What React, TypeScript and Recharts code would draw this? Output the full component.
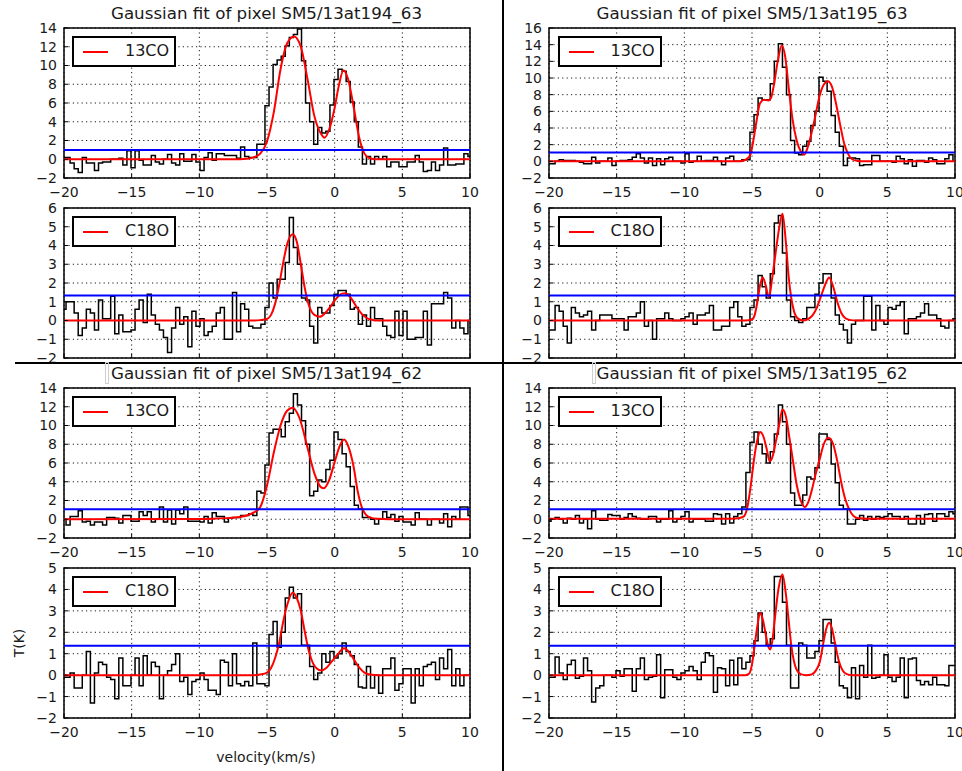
import React from 'react';
import { LineChart, Line, XAxis, YAxis, CartesianGrid, ReferenceLine, ReferenceArea } from 'recharts';

const FONT = '"DejaVu Sans", sans-serif';

// velocity channel grid (km/s)
const V_START = -20;
const CHANNEL_WIDTH = 0.3;
const N_CHANNELS = 101;
const velocity = Array.from({ length: N_CHANNELS }, (_, i) => Math.round((V_START + i * CHANNEL_WIDTH) * 100) / 100);

const xTicks = [-20, -15, -10, -5, 0, 5, 10];
const yTicks13coA = [-2, 0, 2, 4, 6, 8, 10, 12, 14];
const yTicks13coB = [-2, 0, 2, 4, 6, 8, 10, 12, 14, 16];
const yTicksC18oA = [-2, -1, 0, 1, 2, 3, 4, 5, 6];
const yTicksC18oB = [-2, -1, 0, 1, 2, 3, 4, 5];

const titles = [
  'Gaussian fit of pixel SM5/13at194_63',
  'Gaussian fit of pixel SM5/13at195_63',
  'Gaussian fit of pixel SM5/13at194_62',
  'Gaussian fit of pixel SM5/13at195_62',
];

// ---- spectra (T in K per channel) ----
const t194_63_13co = [
  0.2, 0.2, -0.4, -1.0, -1.4, 0.2, -0.4, -0.4, -1.2, -0.4,
  -0.3, -0.3, 0.0, 0.0, 0.1, -0.6, 0.9, -0.9, 0.9, -0.1,
  -0.6, -0.6, 0.4, -0.3, -0.5, 0.0, 0.5, -0.4, -0.6, 0.6,
  -0.2, -0.2, 0.5, -0.3, -1.2, 0.2, 0.7, -0.1, 0.6, 0.6,
  0.4, 0.4, 0.4, 0.1, 1.3, 0.3, 0.2, 0.2, 1.6, 1.6,
  5.7, 7.7, 10.1, 10.6, 11.0, 12.1, 13.0, 13.3, 13.9, 10.5,
  6.0, 4.0, 1.6, 3.4, 2.8, 3.0, 5.8, 8.5, 9.6, 9.4,
  8.3, 6.1, 4.0, 1.3, -0.5, 0.3, -0.5, 0.3, 0.0, 0.3,
  -0.8, -0.3, -0.3, -0.8, -0.8, -0.3, -0.3, 0.4, -0.3, -1.3,
  -1.2, -0.3, -1.2, -0.6, 1.2, -0.6, -0.6, -0.5, -0.5, 0.6,
  0.3,
];
const t194_63_c18o = [
  0.6, 1.0, 1.0, 0.4, -0.8, -0.4, 0.6, 0.4, -0.5, 1.1,
  0.1, 0.1, 1.3, -0.7, 0.3, -0.6, -0.6, -0.5, 0.6, 1.1,
  -0.1, 1.4, 0.3, -0.2, -0.5, -0.9, -1.7, -0.4, 0.7, -0.2,
  0.2, -1.4, 0.5, -0.3, 0.1, -0.8, -0.6, -0.3, 0.4, 0.7,
  -1.0, -1.0, 1.5, -0.6, 0.9, 0.6, -0.3, -0.4, -0.4, -0.2,
  0.7, 2.0, 1.2, 2.2, 2.2, 3.1, 5.5, 3.9, 3.0, 1.2,
  1.1, -0.3, -1.2, 0.7, 0.4, 0.4, 0.8, 1.4, 1.6, 1.6,
  1.4, 0.6, 0.7, -0.2, 0.3, -0.3, 0.7, 0.1, 0.1, -0.3,
  -0.8, -0.9, 0.5, -0.8, 0.5, -1.0, -1.0, -0.9, -0.9, 0.5,
  -1.3, 0.9, 0.9, 0.9, 1.5, 1.2, -0.4, 0.0, -0.4, -0.7,
  0.0,
];
const t195_63_13co = [
  -0.3, -0.3, 0.0, 0.2, 0.1, 0.1, 0.1, 0.0, -0.1, -0.3,
  -0.3, 0.5, -0.2, 0.0, 0.0, 0.4, -0.5, 0.0, 0.1, 0.1,
  0.2, 0.5, 0.9, 0.4, -0.2, 0.4, -0.5, 0.3, -0.4, 0.3,
  0.5, 0.0, 0.0, -0.2, 0.9, -0.1, 0.0, 0.6, 0.0, 0.1,
  0.1, 0.5, 0.0, -0.4, 0.4, 0.6, 0.0, 0.0, 0.2, 0.2,
  3.5, 5.6, 7.6, 7.4, 7.4, 9.3, 12.0, 14.1, 11.3, 8.0,
  2.5, 1.0, 0.8, 1.8, 2.4, 4.3, 6.0, 10.1, 9.6, 8.4,
  5.5, 3.5, 1.8, -0.5, 0.4, 0.4, 0.3, -0.5, -0.4, -0.4,
  0.7, 0.7, 0.0, 0.0, 0.0, -0.1, 0.6, 0.3, -0.3, 0.2,
  -0.6, 0.1, 0.1, -0.1, 0.4, 0.2, -0.3, -0.3, 0.3, 0.8,
  0.0,
];
const t195_63_c18o = [
  -0.5, -0.5, 0.8, 0.5, -0.3, -1.2, 0.7, 0.4, 0.2, 0.3,
  0.5, -0.5, 0.0, 0.3, 0.3, 0.3, 0.1, 0.1, 0.1, -0.5,
  0.2, 0.2, 0.4, 1.0, -0.3, 0.0, -1.0, 0.1, 0.1, 0.4,
  0.1, 0.0, 0.0, 0.1, 0.2, 0.4, -0.2, 0.3, 0.3, 0.4,
  0.8, -0.5, -0.5, -0.3, -0.3, 0.7, 1.0, 0.2, -0.3, -0.2,
  0.7, 1.1, 2.4, 1.8, 1.2, 2.5, 5.2, 5.6, 3.6, 1.1,
  0.2, 0.0, -0.1, 0.1, 0.7, 0.7, 1.4, 2.0, 2.5, 2.5,
  1.2, 0.3, -0.2, -0.5, -1.2, -0.2, 0.0, 0.0, 1.3, 1.3,
  -0.5, 0.8, 0.0, -0.2, 0.7, 0.6, 0.8, 1.0, -0.7, 0.1,
  0.1, 0.2, 0.4, 0.9, 0.3, 0.3, 0.1, -0.3, -0.4, 0.0,
  0.1,
];
const t194_62_13co = [
  0.0, -0.6, 0.3, 0.3, 0.9, -0.3, -0.2, -0.6, -0.3, -0.3,
  -0.6, 0.2, 0.2, 0.1, -0.4, 0.4, 0.4, -0.2, -0.2, 0.8,
  0.4, 0.8, -0.3, 0.0, 1.3, -0.3, 1.0, -0.5, 1.0, 0.6,
  1.3, -0.2, -0.2, -0.2, -0.3, 0.3, -0.4, 0.7, 0.3, 0.3,
  -0.3, 0.1, 0.2, 0.2, 0.4, 0.4, 0.6, 0.4, 3.0, 2.8,
  5.8, 9.2, 9.6, 9.6, 8.8, 10.4, 11.3, 13.4, 12.2, 10.5,
  8.0, 2.5, 3.0, 4.2, 4.0, 5.3, 6.3, 9.3, 8.5, 7.0,
  5.6, 3.5, 1.5, 1.1, 0.2, 0.2, 0.0, -0.5, 0.0, 0.8,
  0.2, 0.5, -0.2, 0.3, -0.3, -0.3, -0.6, 0.7, 0.0, 0.0,
  -0.6, 0.0, 0.0, -0.4, 0.6, -0.8, 0.3, 0.0, 1.3, 1.3,
  0.4,
];
const t194_62_c18o = [
  -0.1, -0.1, 0.1, -0.6, -0.6, 0.0, 1.1, -1.3, 0.1, 0.6,
  0.5, -0.1, -0.2, -1.1, 0.8, -0.5, -0.5, 0.0, 0.8, -0.5,
  0.9, 0.0, 0.6, 0.4, -1.1, 0.0, 0.2, 0.5, 1.0, -0.3,
  -0.1, -0.9, -0.3, -0.2, 0.1, -0.2, -0.7, -0.7, -0.9, 0.7,
  0.6, -0.5, 1.0, -0.4, -0.5, -0.3, -0.5, 1.5, -0.4, -0.4,
  -0.5, 1.9, 2.5, 1.3, 2.0, 3.6, 4.1, 3.6, 3.8, 1.4,
  1.4, 0.4, -0.2, 0.1, 1.0, 0.6, 1.1, 0.8, 1.0, 1.5,
  1.1, 0.9, 0.5, -0.55, -0.6, 0.4, -0.6, 0.0, -0.85, 0.3,
  0.3, 0.8, -0.7, -0.4, 0.3, 0.3, -1.3, 0.3, -0.5, 0.4,
  0.5, 0.6, -0.2, 0.8, 0.3, 1.2, -0.5, 0.3, -0.5, 0.0,
  0.0,
];
const t195_62_13co = [
  -0.2, 0.0, 0.2, 0.0, -0.4, 0.1, 0.0, 0.4, -0.4, 0.0,
  -1.0, 0.9, 0.0, -0.1, -0.1, 0.5, 0.4, 0.4, 0.0, 0.2,
  0.6, 0.3, 0.1, 0.0, 0.0, 0.3, 0.3, -0.3, 0.0, 0.0,
  0.9, -0.3, 0.0, 0.3, 0.8, -0.3, 0.0, 0.0, 0.0, -0.2,
  -0.2, 0.6, 0.5, -0.5, 0.6, -0.4, 0.3, 0.6, 1.3, 5.0,
  8.2, 9.3, 8.0, 7.0, 6.0, 7.2, 9.1, 12.2, 10.4, 8.0,
  2.8, 1.5, 1.5, 2.6, 4.5, 4.3, 5.5, 9.1, 9.1, 8.5,
  5.9, 3.9, 1.5, 1.1, -0.5, -0.5, 0.0, 0.4, -0.1, 0.3,
  0.0, 0.3, 0.2, 0.3, 0.6, 0.3, 0.3, 0.0, 0.3, -0.5,
  -0.5, 0.4, -0.5, 0.5, 0.6, -0.2, 0.6, 0.6, 0.3, 0.8,
  0.6,
];
const t195_62_c18o = [
  -0.1, -0.1, 0.85, 0.1, -0.2, 0.5, 0.7, -0.15, -0.05, 0.8,
  0.2, -1.25, -0.6, -0.5, 0.0, 0.0, -0.1, 0.2, -0.05, 0.3,
  0.3, -0.75, 0.3, 0.8, -0.2, -0.1, -0.05, 0.95, -1.05, 0.25,
  0.25, -0.1, -0.2, 0.1, 0.2, 0.4, 0.2, -0.2, 0.6, 1.05,
  0.9, -0.8, 0.35, 0.3, -0.5, 0.7, -0.45, 0.8, 0.3, 0.6,
  0.9, 1.6, 2.9, 2.0, 1.4, 1.7, 4.6, 4.6, 3.4, 1.4,
  -0.6, -0.6, 1.5, 1.4, 0.8, 0.8, 1.1, 1.6, 2.6, 2.6,
  1.5, 0.6, -0.5, -0.6, -1.05, 0.35, -1.1, 0.45, -0.1, 1.4,
  -0.15, -0.1, 0.0, 0.95, -0.1, -0.3, -0.1, 0.8, -1.05, 0.75,
  0.8, -0.25, -0.45, -0.3, -0.45, -0.1, -0.45, -0.45, -0.5, 0.45,
  0.45,
];

// ---- Gaussian fit curves as [velocity, T] ----
const fit194_63_13co: [number, number][] = [
  [-20, 0], [-7, 0], [-6.5, 0.05], [-6, 0.2], [-5.5, 0.6], [-5, 1.9], [-4.5, 5.0], [-4, 9.6],
  [-3.5, 12.4], [-3, 13.1], [-2.5, 12.0], [-2, 8.5], [-1.5, 4.6], [-1, 2.7], [-0.75, 2.3],
  [-0.4, 3.2], [0, 5.5], [0.3, 7.8], [0.65, 9.5], [1.0, 8.5], [1.4, 5.6], [1.8, 2.4],
  [2.2, 0.6], [2.6, 0.1], [3, 0], [10, 0],
];
const fit194_63_c18o: [number, number][] = [
  [-20, 0], [-6, 0], [-5.5, 0.02], [-5, 0.08], [-4.7, 0.3], [-4.4, 0.9], [-4.1, 1.9], [-3.8, 3.1],
  [-3.5, 4.1], [-3.1, 4.6], [-2.8, 4.2], [-2.5, 3.0], [-2.2, 1.7], [-1.9, 0.8], [-1.5, 0.3],
  [-1.1, 0.2], [-0.7, 0.4], [-0.3, 0.75], [0.1, 1.15], [0.5, 1.42], [0.8, 1.45], [1.2, 1.2],
  [1.6, 0.75], [2.0, 0.35], [2.4, 0.12], [2.8, 0.03], [3.2, 0], [10, 0],
];
const fit195_63_13co: [number, number][] = [
  [-20, 0], [-6, 0], [-5.6, 0.1], [-5.3, 0.4], [-5.1, 0.9], [-4.9, 2.5], [-4.7, 4.5], [-4.4, 7.0],
  [-4.1, 7.4], [-3.8, 7.3], [-3.6, 7.6], [-3.4, 9.0], [-3.1, 12.0], [-2.8, 13.9], [-2.55, 12.6],
  [-2.3, 9.0], [-2.0, 5.0], [-1.7, 2.5], [-1.4, 1.2], [-1.15, 0.8], [-0.9, 1.6], [-0.6, 3.4],
  [-0.3, 5.6], [0, 7.9], [0.3, 9.2], [0.6, 9.6], [0.9, 9.0], [1.2, 7.0], [1.5, 4.5], [1.8, 2.2],
  [2.1, 0.9], [2.4, 0.25], [2.8, 0.05], [3.2, 0], [10, 0],
];
const fit195_63_c18o: [number, number][] = [
  [-20, 0], [-5.5, 0], [-5.0, 0.05], [-4.8, 0.3], [-4.6, 1.0], [-4.4, 1.9], [-4.2, 2.3], [-4.0, 1.9],
  [-3.75, 1.25], [-3.5, 2.3], [-3.2, 3.9], [-3.0, 4.9], [-2.75, 5.7], [-2.5, 4.2], [-2.3, 2.4],
  [-2.1, 1.2], [-1.9, 0.5], [-1.6, 0.1], [-1.2, 0.0], [-0.8, 0.1], [-0.5, 0.3], [-0.2, 0.7],
  [0.1, 1.3], [0.4, 1.9], [0.7, 2.3], [1.0, 1.8], [1.3, 1.0], [1.6, 0.4], [1.9, 0.12], [2.3, 0.02],
  [2.7, 0], [10, 0],
];
const fit194_62_13co: [number, number][] = [
  [-20, 0], [-10, 0.02], [-9, 0.05], [-8, 0.12], [-7, 0.25], [-6.5, 0.4], [-6, 0.7], [-5.5, 1.3],
  [-5, 3.6], [-4.5, 7.1], [-4, 10.0], [-3.5, 11.6], [-3.1, 11.9], [-2.6, 10.8], [-2, 7.6],
  [-1.5, 4.9], [-1, 3.4], [-0.8, 3.3], [-0.4, 4.2], [0, 6.1], [0.4, 7.9], [0.7, 8.5], [1.0, 7.8],
  [1.4, 5.6], [1.7, 3.0], [2.0, 1.3], [2.3, 0.5], [2.7, 0.15], [3.2, 0.05], [4, 0], [10, 0],
];
const fit194_62_c18o: [number, number][] = [
  [-20, 0], [-6, 0], [-5.5, 0.03], [-5, 0.12], [-4.7, 0.33], [-4.4, 0.8], [-4.1, 1.5], [-3.8, 2.5],
  [-3.5, 3.3], [-3.1, 3.85], [-2.8, 3.6], [-2.5, 3.0], [-2.2, 2.0], [-1.9, 1.1], [-1.6, 0.55],
  [-1.3, 0.3], [-1.0, 0.22], [-0.6, 0.35], [-0.2, 0.65], [0.2, 0.95], [0.7, 1.25], [1.2, 0.95],
  [1.7, 0.45], [2.2, 0.12], [2.7, 0.02], [3.2, 0], [10, 0],
];
const fit195_62_13co: [number, number][] = [
  [-20, 0.05], [-10, 0.05], [-6.5, 0.05], [-6, 0.1], [-5.6, 0.3], [-5.3, 1.6], [-5.1, 3.5],
  [-4.85, 6.4], [-4.6, 8.5], [-4.4, 9.3], [-4.15, 8.8], [-3.9, 7.4], [-3.7, 6.2], [-3.5, 6.6],
  [-3.25, 8.2], [-3.0, 10.0], [-2.75, 11.7], [-2.5, 11.0], [-2.25, 8.8], [-2.0, 6.5], [-1.7, 3.7],
  [-1.4, 2.0], [-1.1, 1.3], [-0.85, 1.8], [-0.6, 3.0], [-0.3, 4.8], [0, 6.4], [0.3, 8.0],
  [0.65, 8.7], [1.0, 8.0], [1.3, 6.2], [1.6, 3.9], [1.9, 2.1], [2.2, 1.0], [2.5, 0.35],
  [2.9, 0.1], [3.5, 0.05], [10, 0.05],
];
const fit195_62_c18o: [number, number][] = [
  [-20, 0], [-5.5, 0], [-5.2, 0.08], [-5.0, 0.5], [-4.8, 1.4], [-4.6, 2.3], [-4.4, 2.9], [-4.2, 2.6],
  [-4.0, 1.95], [-3.8, 1.35], [-3.65, 1.2], [-3.5, 1.6], [-3.3, 2.7], [-3.05, 4.0], [-2.75, 4.7],
  [-2.5, 3.8], [-2.3, 2.6], [-2.1, 1.4], [-1.9, 0.65], [-1.7, 0.25], [-1.4, 0.05], [-1.0, 0],
  [-0.6, 0.03], [-0.3, 0.2], [0.0, 0.6], [0.3, 1.6], [0.5, 2.2], [0.7, 2.45], [0.9, 2.2],
  [1.1, 1.6], [1.4, 0.7], [1.7, 0.22], [2.0, 0.05], [2.4, 0], [10, 0],
];

// 3-sigma threshold levels (blue lines)
const thresholds = {
  t194_63_13co: 1.0, t194_63_c18o: 1.33,
  t195_63_13co: 1.05, t195_63_c18o: 1.34,
  t194_62_13co: 1.07, t194_62_c18o: 1.37,
  t195_62_13co: 1.07, t195_62_c18o: 1.37,
};

const PLOT_W = 406;
const PLOT_H = 150;
const YAXIS_W = 50;
const XAXIS_H = 25;
const M_TOP = 10;
const M_RIGHT = 14;

const fmt = (v: number) => (v < 0 ? `\u2212${Math.abs(v)}` : `${v}`);

type PanelProps = {
  px: number;
  py: number;
  spec: number[];
  fit: [number, number][];
  yTicks: number[];
  rms: number;
  label: string;
  showXLabels?: boolean;
};

function SpectrumPanel({ px, py, spec, fit, yTicks, rms, label, showXLabels = true }: PanelProps) {
  const specData = velocity.map((v, i) => ({ v, t: spec[i] }));
  const fitData = fit.map(([v, t]) => ({ v, t }));
  const yMin = yTicks[0];
  const yMax = yTicks[yTicks.length - 1];
  const tickStyle = { fill: '#1a1a1a', fontSize: 14, fontFamily: FONT };
  const xTickStyle = showXLabels ? tickStyle : { ...tickStyle, fill: 'none' };
  return (
    <>
      <div style={{ position: 'absolute', left: px - YAXIS_W, top: py - M_TOP }}>
        <LineChart
          width={YAXIS_W + PLOT_W + M_RIGHT}
          height={M_TOP + PLOT_H + XAXIS_H}
          margin={{ top: M_TOP, right: M_RIGHT, bottom: 0, left: 0 }}
        >
          <CartesianGrid stroke="#000" strokeWidth={0.9} strokeDasharray="1.2 3.2" />
          <XAxis
            type="number"
            dataKey="v"
            domain={[-20, 10]}
            ticks={xTicks}
            interval={0}
            allowDataOverflow
            height={XAXIS_H}
            tickFormatter={(v: number) => (showXLabels ? fmt(v) : '')}
            tick={xTickStyle}
            tickSize={-4}
            tickMargin={13}
            axisLine={false}
            tickLine={{ stroke: '#000' }}
          />
          <YAxis
            type="number"
            domain={[yMin, yMax]}
            ticks={yTicks}
            interval={0}
            allowDataOverflow
            width={YAXIS_W}
            tickFormatter={fmt}
            tick={tickStyle}
            tickSize={-4}
            tickMargin={11}
            axisLine={false}
            tickLine={{ stroke: '#000' }}
          />
          <Line data={specData} dataKey="t" type="step" stroke="#000" strokeWidth={1.5} dot={false} isAnimationActive={false} />
          <Line data={fitData} dataKey="t" type="monotone" stroke="#ff0000" strokeWidth={2} dot={false} isAnimationActive={false} />
          <ReferenceLine y={rms} stroke="#0000ff" strokeWidth={2} />
          <ReferenceArea x1={-20} x2={10} y1={yMin} y2={yMax} fill="none" stroke="#000" strokeWidth={1.5} />
        </LineChart>
      </div>
      <div
        style={{
          position: 'absolute',
          left: px + 8.5,
          top: py + 8.5,
          width: 104,
          height: 31,
          boxSizing: 'border-box',
          border: '2px solid #000',
          background: '#fff',
          fontFamily: FONT,
        }}
      >
        <div style={{ position: 'absolute', left: 9, top: 12.5, width: 25, height: 2, background: '#ff0000' }} />
        <div style={{ position: 'absolute', left: 51, top: 3, fontSize: 16, lineHeight: '20px', color: '#1a1a1a' }}>{label}</div>
      </div>
    </>
  );
}

const COL_X = [63.5, 549];
const ROW_Y = [27.5, 207.5, 387.5, 567.5];

function Title({ x, y, text }: { x: number; y: number; text: string }) {
  return (
    <div
      style={{
        position: 'absolute',
        left: x,
        top: y,
        width: PLOT_W,
        textAlign: 'center',
        fontFamily: FONT,
        fontSize: 16.7,
        lineHeight: '20px',
        color: '#1a1a1a',
        whiteSpace: 'nowrap',
      }}
    >
      {text}
    </div>
  );
}

export default function App() {
  return (
    <div style={{ position: 'absolute', left: 0, top: 0, width: 962, height: 771, background: '#fff', overflow: 'hidden' }}>
      <SpectrumPanel px={COL_X[0]} py={ROW_Y[0]} spec={t194_63_13co} fit={fit194_63_13co} yTicks={yTicks13coA} rms={thresholds.t194_63_13co} label="13CO" />
      <SpectrumPanel px={COL_X[0]} py={ROW_Y[1]} spec={t194_63_c18o} fit={fit194_63_c18o} yTicks={yTicksC18oA} rms={thresholds.t194_63_c18o} label="C18O" showXLabels={false} />
      <SpectrumPanel px={COL_X[1]} py={ROW_Y[0]} spec={t195_63_13co} fit={fit195_63_13co} yTicks={yTicks13coB} rms={thresholds.t195_63_13co} label="13CO" />
      <SpectrumPanel px={COL_X[1]} py={ROW_Y[1]} spec={t195_63_c18o} fit={fit195_63_c18o} yTicks={yTicksC18oA} rms={thresholds.t195_63_c18o} label="C18O" showXLabels={false} />
      <SpectrumPanel px={COL_X[0]} py={ROW_Y[2]} spec={t194_62_13co} fit={fit194_62_13co} yTicks={yTicks13coA} rms={thresholds.t194_62_13co} label="13CO" />
      <SpectrumPanel px={COL_X[0]} py={ROW_Y[3]} spec={t194_62_c18o} fit={fit194_62_c18o} yTicks={yTicksC18oB} rms={thresholds.t194_62_c18o} label="C18O" />
      <SpectrumPanel px={COL_X[1]} py={ROW_Y[2]} spec={t195_62_13co} fit={fit195_62_13co} yTicks={yTicks13coA} rms={thresholds.t195_62_13co} label="13CO" />
      <SpectrumPanel px={COL_X[1]} py={ROW_Y[3]} spec={t195_62_c18o} fit={fit195_62_c18o} yTicks={yTicksC18oB} rms={thresholds.t195_62_c18o} label="C18O" />

      <Title x={COL_X[0]} y={3} text={titles[0]} />
      <Title x={COL_X[1]} y={3} text={titles[1]} />
      <Title x={COL_X[0]} y={363} text={titles[2]} />
      <Title x={COL_X[1]} y={363} text={titles[3]} />

      {/* axis labels */}
      <div style={{ position: 'absolute', left: 166, top: 747, width: 200, textAlign: 'center', fontFamily: FONT, fontSize: 14, lineHeight: '20px', color: '#1a1a1a' }}>
        velocity(km/s)
      </div>
      <div style={{ position: 'absolute', left: 19, top: 643, transform: 'translate(-50%, -50%) rotate(-90deg)', fontFamily: FONT, fontSize: 14, lineHeight: '20px', color: '#1a1a1a', whiteSpace: 'nowrap' }}>
        T(K)
      </div>

      {/* separators between the four figures */}
      <div style={{ position: 'absolute', left: 501.5, top: 0, width: 2.6, height: 771, background: '#000' }} />
      <div style={{ position: 'absolute', left: 15, top: 361.5, width: 947, height: 2.6, background: '#000' }} />
      <div style={{ position: 'absolute', left: 105, top: 362, width: 4, height: 22, boxSizing: 'border-box', border: '1px solid #cfcfcf' }} />
      <div style={{ position: 'absolute', left: 592, top: 362, width: 4, height: 22, boxSizing: 'border-box', border: '1px solid #cfcfcf' }} />
    </div>
  );
}
